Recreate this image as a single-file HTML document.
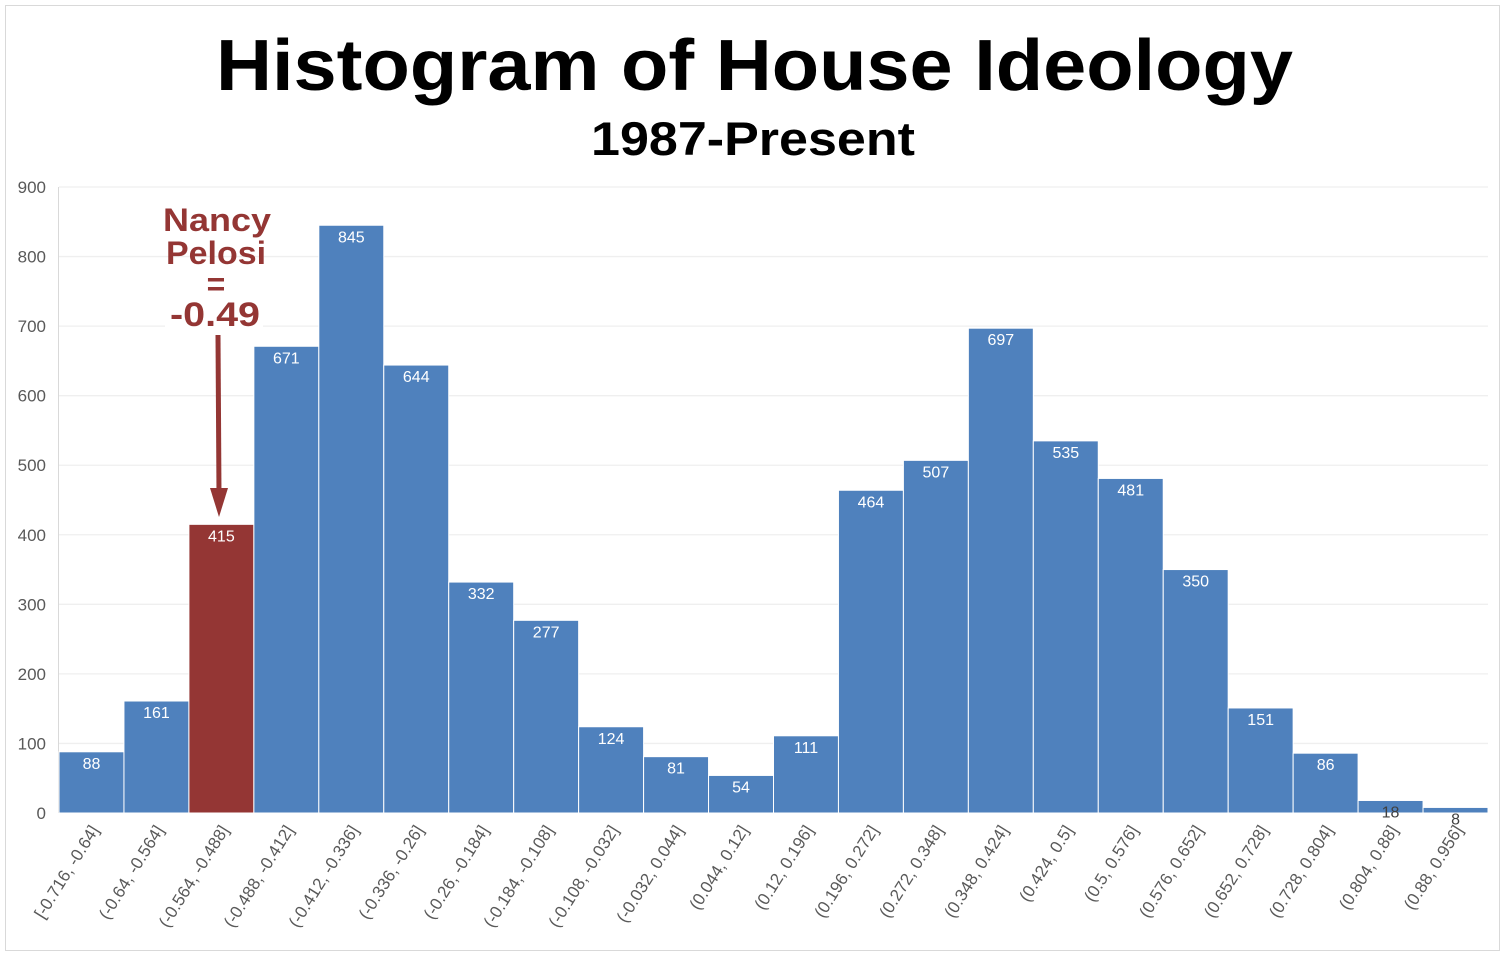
<!DOCTYPE html>
<html><head><meta charset="utf-8"><style>
html,body{margin:0;padding:0;background:#fff;}
svg{display:block;}
</style></head><body>
<svg width="1504" height="955" viewBox="0 0 1504 955" xmlns="http://www.w3.org/2000/svg" font-family="'Liberation Sans', sans-serif">
<rect x="5.5" y="5.5" width="1494" height="945" fill="#fff" stroke="#d9d9d9" stroke-width="1"/>
<text x="216" y="90" font-size="72" font-weight="bold" fill="#000" textLength="1077" lengthAdjust="spacingAndGlyphs">Histogram of House Ideology</text>
<text x="591" y="155" font-size="47" font-weight="bold" fill="#000" textLength="324" lengthAdjust="spacingAndGlyphs">1987-Present</text>
<g id="grid" stroke="#efefef" stroke-width="1.3"></g>
<line x1="58.5" y1="187" x2="58.5" y2="813" stroke="#d9d9d9" stroke-width="1"/>
<g id="ylab" font-size="17" fill="#595959" text-anchor="end"></g>
<g id="bars"></g>
<g id="xlab" font-size="17" fill="#595959" text-anchor="end"></g>
<rect x="165" y="296" width="98" height="36" fill="#fff"/>
<g font-weight="bold" fill="#943634" text-anchor="middle">
<text x="217" y="231" font-size="32" textLength="108" lengthAdjust="spacingAndGlyphs">Nancy</text>
<text x="216" y="264" font-size="32" textLength="100" lengthAdjust="spacingAndGlyphs">Pelosi</text>
<text x="216" y="295" font-size="32">=</text>
<text x="215" y="326" font-size="34" textLength="90" lengthAdjust="spacingAndGlyphs">-0.49</text>
</g>
<line x1="218" y1="335" x2="219" y2="495" stroke="#943634" stroke-width="5"/>
<polygon points="210,488 228,488 219,517" fill="#943634"/>
</svg>
<script>
var vals=[88,161,415,671,845,644,332,277,124,81,54,111,464,507,697,535,481,350,151,86,18,8];
var labs=["[-0.716, -0.64]","(-0.64, -0.564]","(-0.564, -0.488]","(-0.488, -0.412]","(-0.412, -0.336]","(-0.336, -0.26]","(-0.26, -0.184]","(-0.184, -0.108]","(-0.108, -0.032]","(-0.032, 0.044]","(0.044, 0.12]","(0.12, 0.196]","(0.196, 0.272]","(0.272, 0.348]","(0.348, 0.424]","(0.424, 0.5]","(0.5, 0.576]","(0.576, 0.652]","(0.652, 0.728]","(0.728, 0.804]","(0.804, 0.88]","(0.88, 0.956]"];
var ns="http://www.w3.org/2000/svg";
function el(t,a,p,txt){var e=document.createElementNS(ns,t);for(var k in a)e.setAttribute(k,a[k]);if(txt!=null)e.textContent=txt;p.appendChild(e);return e;}
var y0=813,s=(813-187)/900,x0=59,w=(1488-59)/22;
var g=document.getElementById('grid'),yl=document.getElementById('ylab');
for(var v=0;v<=900;v+=100){var y=y0-v*s;if(v>0)el('line',{x1:59,x2:1488,y1:y,y2:y},g);el('text',{x:46,y:y+6},yl,v);}
var b=document.getElementById('bars'),xl=document.getElementById('xlab');
vals.forEach(function(v,i){var x=x0+i*w,h=v*s;
el('rect',{x:x,y:y0-h,width:w,height:h,fill:i==2?'#943634':'#4f81bd',stroke:'#fff','stroke-width':1},b);
el('text',{x:x+w/2,y:y0-h+17,'text-anchor':'middle','font-size':16,fill:v<20?'#404040':'#fff'},b,v);
var cx=x+w/2+8,cy=830;
el('text',{x:cx,y:cy,transform:'rotate(-58 '+cx+' '+cy+')'},xl,labs[i]);
});
</script>
</body></html>
